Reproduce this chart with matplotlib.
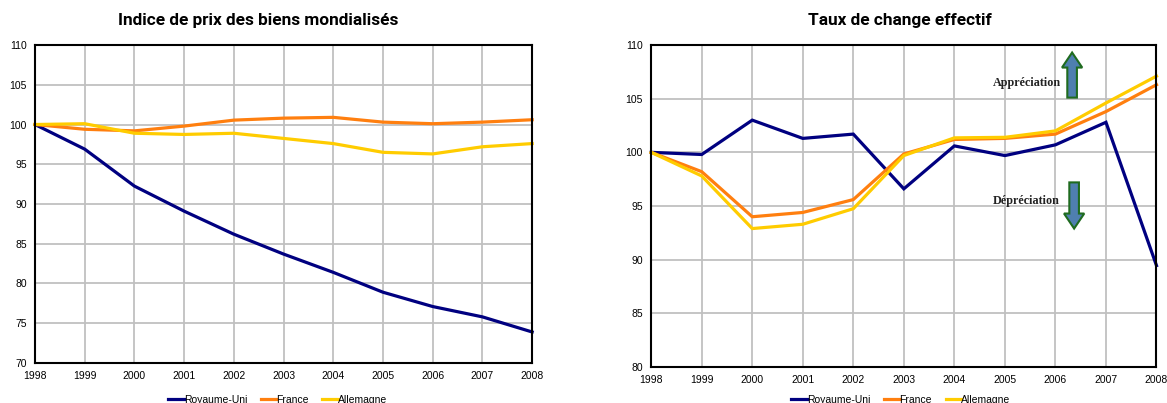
import matplotlib
matplotlib.use("Agg")
import matplotlib.pyplot as plt
from matplotlib.patches import FancyArrow

years = [1998, 1999, 2000, 2001, 2002, 2003, 2004, 2005, 2006, 2007, 2008]

# indice de prix des biens mondialisés
prix_ru = [100, 96.9, 92.25, 89.1, 86.2, 83.7, 81.4, 78.9, 77.1, 75.8, 73.9]
prix_fr = [100, 99.4, 99.2, 99.8, 100.55, 100.8, 100.9, 100.3, 100.1, 100.3, 100.6]
prix_de = [100, 100.1, 98.9, 98.75, 98.9, 98.25, 97.6, 96.5, 96.3, 97.2, 97.6]

# taux de change effectif
tce_ru = [100, 99.8, 103.0, 101.3, 101.7, 96.6, 100.6, 99.7, 100.7, 102.8, 89.45]
tce_fr = [100, 98.2, 94.0, 94.4, 95.6, 99.85, 101.2, 101.3, 101.7, 103.8, 106.3]
tce_de = [100, 97.8, 92.9, 93.3, 94.75, 99.7, 101.35, 101.4, 102.0, 104.6, 107.1]

names = ["Royaume-Uni", "France", "Allemagne"]
colors = ["#000080", "#FF7F0F", "#FFCC00"]

plt.rcParams['font.family'] = ['Liberation Sans', 'DejaVu Sans']

fig = plt.figure(figsize=(11.67, 4.03), dpi=100)
ax1 = fig.add_axes([0.030, 0.0993, 0.426, 0.789])
ax2 = fig.add_axes([0.558, 0.0893, 0.433, 0.799])


def style_axes(ax, ymin, ymax):
    ax.set_xlim(1998, 2008)
    ax.set_ylim(ymin, ymax)
    ax.set_xticks(years)
    ax.set_yticks(range(ymin, ymax + 1, 5))
    ax.grid(True, color="#c0c0c0", lw=1.3)
    ax.set_axisbelow(True)
    ax.tick_params(length=0, labelsize=7.5, pad=6)
    for s in ax.spines.values():
        s.set_color("black")
        s.set_linewidth(1.5)


for ax, series in [(ax1, [prix_ru, prix_fr, prix_de]), (ax2, [tce_ru, tce_fr, tce_de])]:
    for vals, c, n in zip(series, colors, names):
        ax.plot(years, vals, color=c, lw=2.3, label=n, clip_on=False, solid_joinstyle="miter")

style_axes(ax1, 70, 110)
style_axes(ax2, 80, 110)

fig.text(0.221, 0.95, "Indice de prix des biens mondialisés", ha="center", va="center",
         fontsize=12.4, fontweight="bold", family="Roboto")
fig.text(0.771, 0.95, "Taux de change effectif", ha="center", va="center",
         fontsize=12.4, fontweight="bold", family="Roboto")

# flèches appréciation / dépréciation
ax2.add_patch(FancyArrow(2006.33, 105.1, 0, 4.2, width=0.19, head_width=0.4,
                         head_length=1.4, length_includes_head=True,
                         facecolor="#4f7fb0", edgecolor="#1f6b1f", lw=1.5, zorder=5))
ax2.add_patch(FancyArrow(2006.37, 97.2, 0, -4.3, width=0.19, head_width=0.4,
                         head_length=1.4, length_includes_head=True,
                         facecolor="#4f7fb0", edgecolor="#1f6b1f", lw=1.5, zorder=5))
ax2.text(2005.43, 106.45, "Appréciation", ha="center", va="center", fontsize=8.7,
         fontweight="bold", family="Liberation Serif", color="#222222")
ax2.text(2005.43, 95.45, "Dépréciation", ha="center", va="center", fontsize=8.7,
         fontweight="bold", family="Liberation Serif", color="#222222")

for ax, xc in [(ax1, 0.238), (ax2, 0.772)]:
    h, l = ax.get_legend_handles_labels()
    fig.legend(h, l, loc="center", bbox_to_anchor=(xc, 0.008), ncol=3, frameon=False,
               fontsize=7.5, handlelength=1.5, handletextpad=0.0, columnspacing=1.3,
               borderpad=0)

fig.savefig("out.png", dpi=100)
